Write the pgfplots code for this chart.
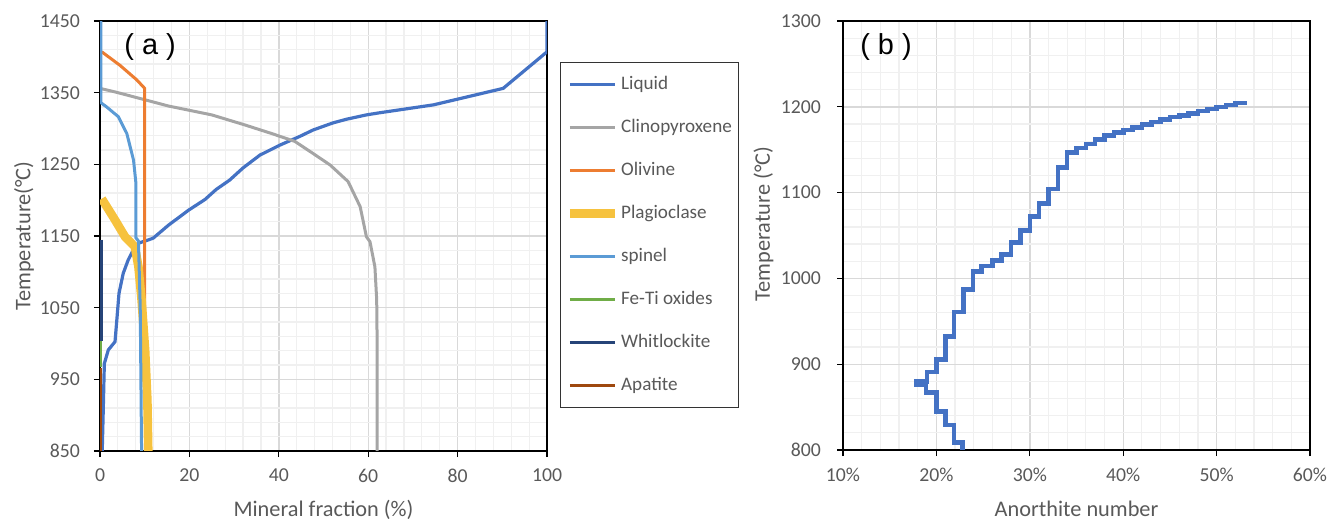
\documentclass[border=0pt]{standalone}
\usepackage{pgfplots}
\pgfplotsset{compat=1.18}
\usepackage{fontspec}
\setmainfont{Carlito}
\newfontfamily\arialfont{Liberation Sans}
\definecolor{cLiq}{HTML}{4472C4}
\definecolor{cCpx}{HTML}{A5A5A5}
\definecolor{cOl}{HTML}{ED7D31}
\definecolor{cPl}{HTML}{F6C23E}
\definecolor{cSp}{HTML}{5B9BD5}
\definecolor{cFeTi}{HTML}{70AD47}
\definecolor{cWh}{HTML}{264478}
\definecolor{cAp}{HTML}{9E480E}
\definecolor{gridmaj}{HTML}{D9D9D9}
\definecolor{gridmin}{HTML}{F0F0F0}
\definecolor{ticktext}{HTML}{595959}
\pgfplotsset{
  common/.style={
    scale only axis,
    anchor=south west,
    axis line style={black, line width=0.6bp},
    tick align=outside,
    tick pos=left,
    major tick length=3bp,
    minor tick length=0bp,
    tick style={black, line width=0.6bp},
    grid=both,
    major grid style={color=gridmaj, line width=0.7bp},
    minor grid style={color=gridmin, line width=0.6bp},
    minor x tick num=4,
    minor y tick num=4,
    /pgf/number format/assume math mode=true,
    /pgf/number format/1000 sep={},
    tick label style={font=\fontsize{9.9}{11}\selectfont, text=ticktext},
    xticklabel style={yshift=-2.5bp},
    label style={font=\fontsize{11.2}{13}\selectfont, text=ticktext},
    clip=true,
  }
}
\begin{document}
\begin{tikzpicture}
\useasboundingbox (0,0) rectangle (665bp,259.5bp);
% ---------------- panel (a)
\begin{axis}[common,
  at={(50bp,34bp)},
  width=223.5bp, height=215bp,
  xmin=0, xmax=100, ymin=850, ymax=1450,
  xtick={0,20,...,100},
  ytick={850,950,...,1450},
  yticklabel style={xshift=-3.5bp},
  xlabel={Mineral fraction (\%)},
  ylabel={Temperature(°C)},
  xlabel style={at={(axis description cs:0.5,-0.137)}, anchor=center},
  ylabel style={at={(axis description cs:-0.17,0.5)}, anchor=center},
  legend style={at={(axis description cs:1.029,0.9047)}, anchor=north west,
    draw=black!80, line width=0.6bp, inner xsep=2.5bp, inner ysep=5.75bp,
    row sep=11bp, font=\fontsize{9.6}{11}\selectfont, text=ticktext,
    nodes={inner sep=1bp, text height=6.5bp, text depth=2bp}},
  legend cell align=left,
  legend image code/.code={\draw[#1] (0bp,0bp) -- (22.5bp,0bp);},
]
\addplot[cLiq, line width=1.6bp] coordinates {
 (0.5,850) (0.7,900) (0.97,972) (1.86,991) (3.36,1002.5) (3.7,1028) (4.25,1070)
 (5.2,1098) (6.3,1116.5) (7.45,1130.5) (8.6,1140) (10.8,1144.5) (11.9,1147)
 (15.3,1165) (19.8,1186) (23.5,1201) (26,1215) (29,1228) (32,1245) (35.8,1263)
 (40.3,1277) (44.7,1289) (47.7,1298) (52.2,1308) (55.2,1313) (59.6,1319)
 (62.6,1322) (74.6,1333) (90.2,1356) (100,1407) (100,1450)};
\addlegendentry{Liquid}
\addplot[cCpx, line width=1.5bp] coordinates {
 (0,1356) (3.4,1351) (10.1,1340) (15.3,1331.4) (25,1319) (32.4,1305)
 (38.4,1293) (43.6,1282) (47.7,1265) (51.5,1249) (55.5,1226) (58.2,1191)
 (59.6,1149) (60.4,1142) (61.5,1107) (61.9,1061) (62.0,1000) (62.0,850)};
\addlegendentry{Clinopyroxene}
\addplot[cOl, line width=1.5bp] coordinates {
 (0.4,1407) (4.5,1388) (8.2,1368) (10.0,1356) (10.0,1040)};
\addlegendentry{Olivine}
\addplot[cPl, line width=4.3bp] coordinates {
 (0.4,1202) (3.4,1172) (5.6,1149) (6.7,1142) (7.8,1135) (8.6,1107)
 (9.3,1061) (10.1,991) (10.6,921) (10.8,850)};
\addlegendentry{Plagioclase}
\addplot[cSp, line width=1.5bp] coordinates {
 (0.2,1450) (0.2,1336) (1.5,1330) (4.1,1316.5) (6.0,1293) (7.5,1256) (8.0,1226)
 (8.0,1148) (8.6,1143) (9.0,1050) (9.3,850)};
\addlegendentry{spinel}
\addplot[cFeTi, line width=1.5bp] coordinates {(0.15,1003) (0.15,967)};
\addlegendentry{Fe-Ti oxides}
\addplot[cWh, line width=1.5bp] coordinates {(0.35,1145) (0.35,1004)};
\addlegendentry{Whitlockite}
\addplot[cAp, line width=1.5bp] coordinates {(0.2,966) (0.2,850)};
\addlegendentry{Apatite}
\node[font=\arialfont\fontsize{14.5}{16}\selectfont, text=black] at (axis description cs:0.112,0.94) {( a )};
\end{axis}
% ---------------- panel (b)
\begin{axis}[common,
  at={(421.5bp,34.5bp)},
  width=233.5bp, height=214.5bp,
  xmin=10, xmax=60, ymin=800, ymax=1300,
  xtick={10,20,...,60},
  xticklabels={10\%,20\%,30\%,40\%,50\%,60\%},
  ytick={800,900,...,1300},
  yticklabel style={xshift=-4.5bp},
  xlabel={Anorthite number},
  ylabel={Temperature (°C)},
  xlabel style={at={(axis description cs:0.5,-0.137)}, anchor=center},
  ylabel style={at={(axis description cs:-0.17,0.527)}, anchor=center},
]
\addplot[cLiq, line width=2.3bp] coordinates {
 (22.8,800) (22.8,808.5) (21.9,808.5) (21.9,829) (21.0,829) (21.0,844.6)
 (20.0,844.6) (20.0,866.8) (18.9,866.8) (18.9,875.8) (17.9,875.8) (17.9,879.6)
 (19.0,879.6) (19.0,891) (20.0,891) (20.0,905.7) (21.0,905.7) (21.0,932)
 (21.9,932) (21.9,961) (22.9,961) (22.9,987) (23.9,987) (23.9,1008)
 (24.8,1008) (24.8,1014.5) (26.0,1014.5) (26.0,1021) (27.0,1021) (27.0,1028)
 (28.0,1028) (28.0,1041.6) (29.0,1041.6) (29.0,1056) (30.0,1056) (30.0,1072)
 (31.0,1072) (31.0,1087.6) (32.0,1087.6) (32.0,1104) (33.0,1104) (33.0,1129.6)
 (34.0,1129.6) (34.0,1146.7) (35.0,1146.7) (35.0,1151.8) (36.0,1151.8)
 (36.0,1156.8) (37.0,1156.8) (37.0,1162) (38.0,1162) (38.0,1166.4) (39.0,1166.4)
 (39.0,1170) (40.0,1170) (40.0,1173) (41.0,1173) (41.0,1176) (42.0,1176)
 (42.0,1179.6) (43.0,1179.6) (43.0,1182.3) (44.0,1182.3) (44.0,1185.4)
 (45.0,1185.4) (45.0,1188) (46.0,1188) (46.0,1190) (47.0,1190) (47.0,1192.4)
 (48.0,1192.4) (48.0,1195) (49.0,1195) (49.0,1197.4) (50.0,1197.4) (50.0,1199.8)
 (51.0,1199.8) (51.0,1202) (52.0,1202) (52.0,1204.5) (53.2,1204.5)};
\node[font=\arialfont\fontsize{14.5}{16}\selectfont, text=black] at (axis description cs:0.092,0.939) {( b )};
\end{axis}
\end{tikzpicture}
\end{document}
